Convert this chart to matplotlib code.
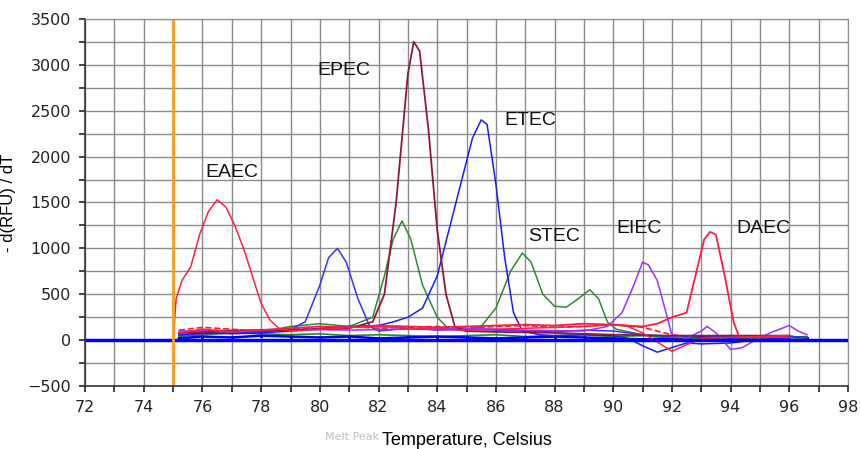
import matplotlib
matplotlib.use("Agg")
import matplotlib.pyplot as plt
from matplotlib.ticker import MultipleLocator

# melt peak curves, temperature (C) vs -d(RFU)/dT
eaec_x = [75.0, 75.1, 75.3, 75.6, 75.9, 76.2, 76.5, 76.8, 77.1, 77.4, 77.7, 78.0, 78.3, 78.6, 79.0,
          79.5, 80, 81, 82, 83, 84, 85, 86, 87, 88, 89, 90, 90.5, 91, 91.5, 92, 92.5, 93, 94, 95, 96]
eaec_y = [0, 450, 650, 800, 1150, 1400, 1530, 1450, 1250, 1000, 700, 400, 220, 130, 100,
          110, 120, 140, 150, 130, 120, 110, 120, 130, 140, 150, 170, 150, 80, -20, -120, -50, 20, 30, 40, 30]

epec_x = [75.2, 77, 79, 80, 81, 81.8, 82.2, 82.6, 83.0, 83.2, 83.4, 83.7, 84.0, 84.3, 84.6, 85,
          86, 88, 90, 92, 94, 96]
epec_y = [80, 100, 110, 120, 130, 200, 500, 1500, 2900, 3250, 3150, 2300, 1200, 500, 150, 100,
          90, 80, 60, 50, 50, 50]

etec_x = [75.2, 76, 77, 78, 79, 80, 81, 82, 82.5, 83, 83.5, 84, 84.4, 84.8, 85.2, 85.5, 85.7, 86,
          86.3, 86.6, 86.9, 87.5, 88, 89, 90, 90.5, 91, 91.5, 92, 92.5, 93, 94, 95, 96]
etec_y = [60, 80, 70, 80, 100, 130, 150, 160, 200, 250, 350, 700, 1200, 1700, 2200, 2400, 2350, 1700,
          900, 300, 100, 60, 50, 60, 50, 20, -60, -130, -80, -30, -40, -30, 10, 20]

blue2_x = [75.2, 77, 78, 79, 79.5, 80, 80.3, 80.6, 80.9, 81.3, 81.7, 82, 83, 84, 85, 86, 87, 88,
           89, 90, 91, 92, 93, 94, 95, 96, 96.6]
blue2_y = [60, 80, 90, 120, 200, 600, 900, 1000, 850, 450, 150, 100, 130, 110, 120, 110, 100, 90,
           110, 100, 60, 40, 50, 40, 30, 40, 30]

stec_x = [75.2, 76, 77, 78, 79, 80, 81, 81.8, 82.2, 82.5, 82.8, 83.1, 83.5, 84, 84.4, 85, 85.5, 86,
          86.5, 86.9, 87.2, 87.6, 88, 88.4, 88.8, 89.2, 89.5, 89.8, 90.1, 91, 92, 93, 94, 95, 96, 96.6]
stec_y = [50, 80, 100, 90, 150, 180, 150, 250, 700, 1100, 1300, 1100, 600, 250, 120, 100, 150, 350,
          750, 950, 850, 500, 370, 360, 450, 550, 450, 200, 120, 60, 30, 20, 30, 20, 30, 10]

eiec_x = [75.2, 77, 79, 81, 83, 85, 87, 89, 89.8, 90.3, 90.7, 91.0, 91.2, 91.5, 91.8, 92.0, 92.5,
          93.0, 93.2, 93.5, 94.0, 94.4, 95, 95.5, 96.0, 96.3, 96.6]
eiec_y = [100, 110, 120, 110, 120, 130, 110, 100, 150, 300, 600, 850, 820, 650, 300, 50, 20,
          100, 150, 80, -100, -80, 30, 100, 160, 100, 60]

daec_x = [75.2, 76, 77, 78, 79, 80, 81, 82, 83, 84, 85, 86, 87, 88, 89, 90, 90.5, 91, 91.5, 92,
          92.5, 92.8, 93.1, 93.3, 93.5, 93.8, 94.1, 94.3, 95, 96]
daec_y = [80, 120, 90, 110, 130, 150, 140, 160, 150, 140, 150, 160, 170, 160, 180, 170, 160, 150,
          180, 250, 300, 700, 1100, 1180, 1150, 700, 200, 30, 40, 50]

# low background traces
bg_x = [75.2, 76, 77, 78, 79, 80, 81, 82, 83, 84, 85, 86, 87, 88, 89, 90, 91, 92, 93, 94, 95, 96, 96.6]
bg_red = [110, 140, 120, 100, 130, 120, 150, 130, 140, 150, 130, 150, 160, 140, 150, 170, 140, 60, 30, 40, 50, 40, 30]
bg_blue = [20, 40, 30, 50, 40, 30, 40, 20, 30, 40, 30, 20, 30, 40, 30, 20, 10, 20, 30, 20, 30, 40, 20]
bg_green = [40, 60, 80, 70, 60, 70, 50, 60, 50, 40, 50, 60, 40, 50, 60, 40, 50, 30, 40, 50, 40, 30, 40]

labels = ["EAEC", "EPEC", "ETEC", "STEC", "EIEC", "DAEC"]
label_x = [76.1, 79.9, 86.3, 87.1, 90.1, 94.2]
label_y = [1830, 2940, 2390, 1130, 1220, 1220]

fig = plt.figure(figsize=(8.6, 4.49), dpi=100)
ax = fig.add_axes([0.099, 0.140, 0.887, 0.818])

ax.set_xlim(72, 98)
ax.set_ylim(-500, 3500)
ax.xaxis.set_major_locator(MultipleLocator(2))
ax.xaxis.set_minor_locator(MultipleLocator(1))
ax.yaxis.set_major_locator(MultipleLocator(500))
ax.yaxis.set_minor_locator(MultipleLocator(250))
ax.grid(True, which="both", color="#8c8c8c", linewidth=1.0)
ax.set_axisbelow(True)
ax.tick_params(which="both", direction="out", length=4, width=1.2, colors="#222222", labelsize=11.5, pad=6)
for s in ["top", "right"]:
    ax.spines[s].set_color("#8c8c8c")
for s in ["left", "bottom"]:
    ax.spines[s].set_color("#333333")
    ax.spines[s].set_linewidth(1.2)

ax.plot(bg_x, bg_red, color="#ff2020", lw=1.2, ls="--")
ax.plot(bg_x, bg_green, color="#228b22", lw=1.2)
ax.plot(bg_x, bg_blue, color="#0000ee", lw=1.8, marker=".", ms=3)
ax.plot(stec_x, stec_y, color="#2e8b2e", lw=1.1)
ax.plot(blue2_x, blue2_y, color="#3333ff", lw=1.1)
ax.plot(etec_x, etec_y, color="#1a1aff", lw=1.1)
ax.plot(eiec_x, eiec_y, color="#9933ff", lw=1.1)
ax.plot(epec_x, epec_y, color="#8b1a3a", lw=1.3)
ax.plot(eaec_x, eaec_y, color="#ff2040", lw=1.1)
ax.plot(daec_x, daec_y, color="#ff1a4a", lw=1.3)

ax.axhline(0, color="#0000ff", lw=2.5)
ax.axvline(75, color="#ff9a1a", lw=2)

for t, x, y in zip(labels, label_x, label_y):
    ax.text(x, y, t, fontsize=14, family="Liberation Sans", va="center", ha="left", color="#111111")

ax.set_ylabel("- d(RFU) / dT", fontsize=12, family="Liberation Sans", labelpad=8)
ax.set_xlabel("Temperature, Celsius", fontsize=13, family="Liberation Sans", labelpad=12)
fig.text(0.378, 0.027, "Melt Peak", fontsize=8, color="#c0c0c0", ha="left", va="center")

fig.savefig("out.png", dpi=100)
